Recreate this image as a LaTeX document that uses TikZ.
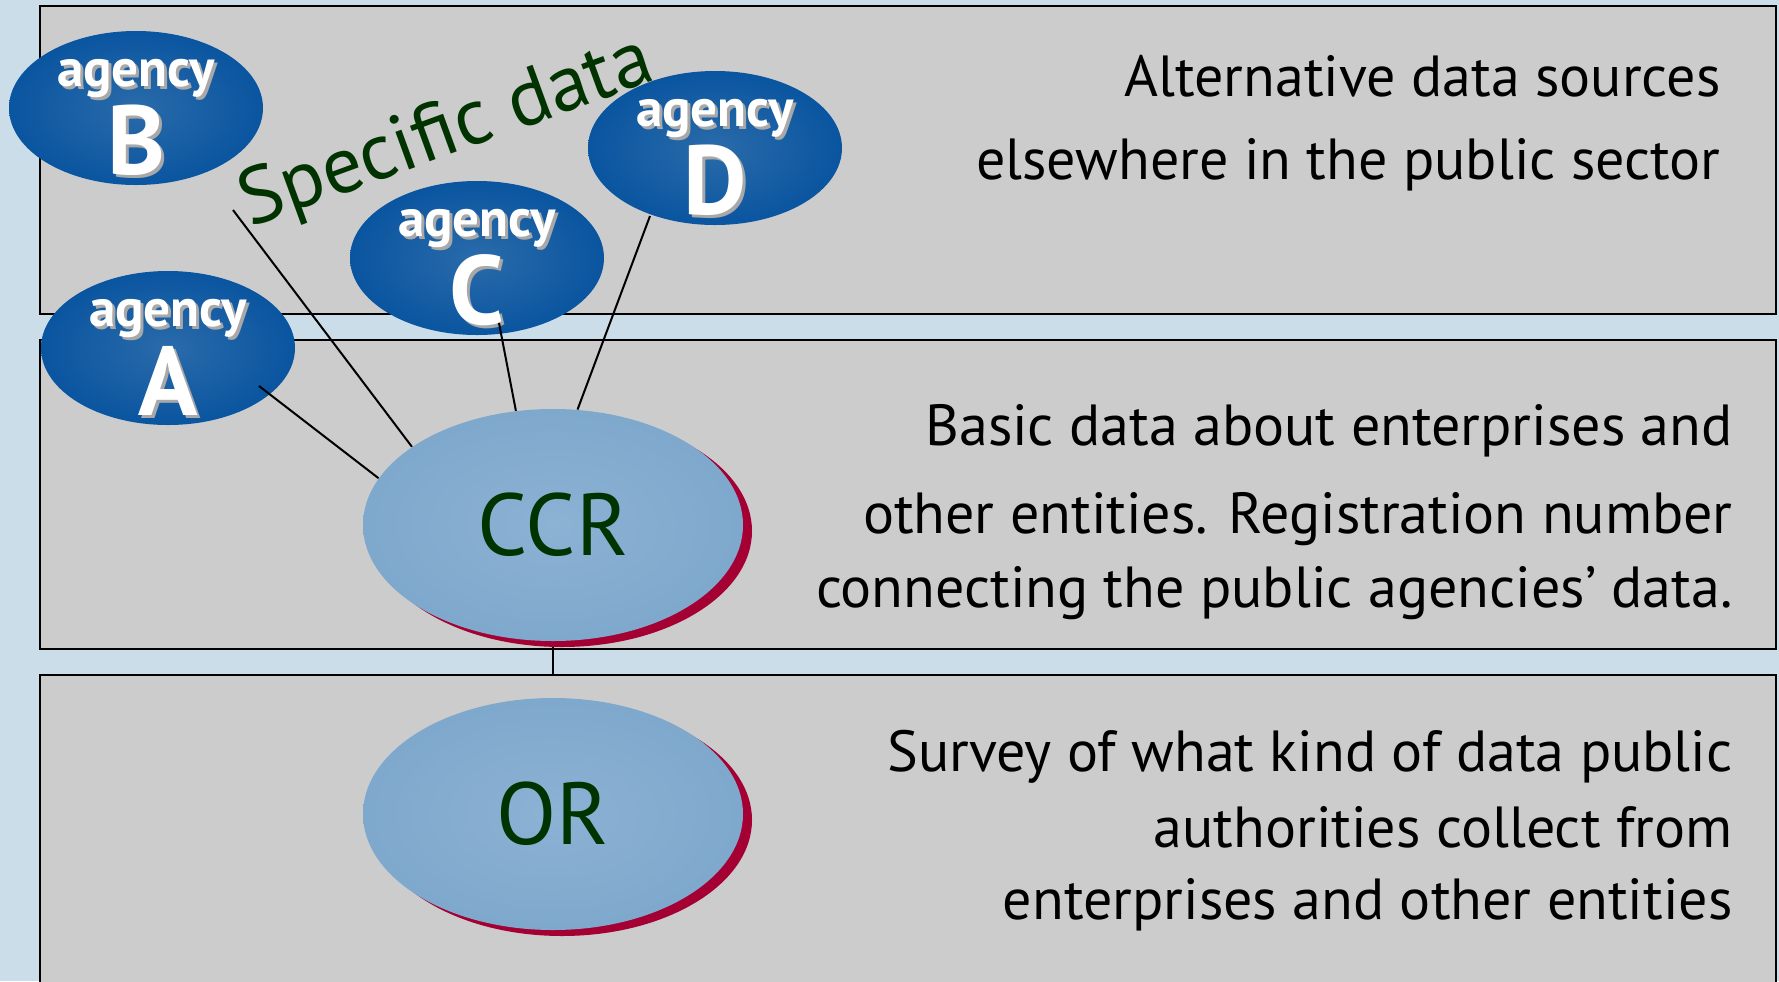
\documentclass[tikz,border=0pt]{standalone}
\usepackage{fontspec}
\setmainfont{PT Sans}
\usetikzlibrary{shapes.geometric}
\definecolor{bgblue}{HTML}{CCDDEA}
\definecolor{boxgray}{HTML}{CCCCCC}
\definecolor{agdark}{HTML}{0A55A0}
\definecolor{aglight}{HTML}{2A6BAA}
\definecolor{regout}{HTML}{7EA8CC}
\definecolor{regin}{HTML}{8CB2D4}
\definecolor{shred}{HTML}{A50034}
\definecolor{dgreen}{HTML}{003300}
\definecolor{txtshadow}{HTML}{A8A8A8}
\pgfdeclarelayer{back}
\pgfdeclarelayer{lines}
\pgfdeclarelayer{mid}
\pgfsetlayers{back,lines,mid,main}
\newcommand{\shtxt}[1]{\makebox[0pt][l]{\hspace{1.5pt}\raisebox{-1.5pt}{\textcolor{txtshadow}{#1}}}\textcolor{white}{#1}}
\begin{document}
\begin{tikzpicture}[x=0.5pt,y=-0.5pt,
 panel/.style={draw=black, line width=1.1pt, fill=boxgray},
 agency/.style={ellipse, inner sep=0pt, minimum width=127pt, minimum height=77pt, shading=radial, inner color=aglight, outer color=agdark},
 agword/.style={font=\bfseries\fontsize{26.5}{26.5}\selectfont, inner sep=0pt},
 agletter/.style={font=\bfseries\fontsize{49}{49}\selectfont, inner sep=0pt},
 register/.style={ellipse, inner sep=0pt, minimum width=190pt, minimum height=116pt, shading=radial, inner color=regin, outer color=regout, text=dgreen, font=\fontsize{44}{44}\selectfont},
 regshadow/.style={fill=shred},
 link/.style={draw=black, line width=1pt},
 desc/.style={anchor=base east, inner sep=0pt, font=\fontsize{29}{29}\selectfont, text=black}
]
\useasboundingbox (0,0) rectangle (1779,981);
\begin{pgfonlayer}{back}
\fill[bgblue] (0,0) rectangle (1779,981);
\draw[panel] (40,6) rectangle (1776,314);
\draw[panel] (40,340) rectangle (1776,649);
\node[agency] (B) at (136,108) {};
\node[agword] (Bt) at ([yshift=14pt]B.center) {\shtxt{agency}};
\node[agletter] (Bl) at ([yshift=-17pt]B.center) {\shtxt{B}};
\node[agency] (D) at (715,148) {};
\node[agword] (Dt) at ([yshift=14pt]D.center) {\shtxt{agency}};
\node[agletter] (Dl) at ([yshift=-17pt]D.center) {\shtxt{D}};
\node[agency] (C) at (477,258) {};
\node[agword] (Ct) at ([yshift=14pt]C.center) {\shtxt{agency}};
\node[agletter] (Cl) at ([yshift=-17pt]C.center) {\shtxt{C}};
\node[agency] (A) at (168,348) {};
\node[agword] (At) at ([yshift=14pt]A.center) {\shtxt{agency}};
\node[agletter] (Al) at ([yshift=-17pt]A.center) {\shtxt{A}};
\end{pgfonlayer}
% registers
\node[register] (CCR) at (553,525) {CCR};
\node[register] (OR) at (553,814) {OR};
\begin{pgfonlayer}{mid}
\draw[panel] (40,675) rectangle (1776,1000);
\fill[regshadow] ([xshift=4.5pt,yshift=-3pt]CCR.center) ellipse [x radius=95pt, y radius=58pt];
\fill[regshadow] ([xshift=4.5pt,yshift=-3pt]OR.center) ellipse [x radius=95pt, y radius=58pt];
\end{pgfonlayer}
\begin{pgfonlayer}{lines}
\coordinate (a1) at (259,386);
\coordinate (b1) at (233,210);
\coordinate (c1) at (499,323);
\coordinate (d1) at (650,216);
\draw[link] (a1) -- (CCR.165);
\draw[link] (b1) -- (CCR.151);
\draw[link] (c1) -- (CCR.108);
\draw[link] (d1) -- (CCR.78);
\draw[link] (CCR) -- (OR);
\end{pgfonlayer}
\node[text=dgreen, font=\fontsize{40}{40}\selectfont, rotate=20, inner sep=0pt] (spec) at (447,134) {Specific data};
\node[desc] (t1) at (1721,96) {Alternative data sources};
\node[desc] (t2) at (1721,179) {elsewhere in the public sector};
\node[desc] (m1) at (1733,445) {Basic data about enterprises and};
\node[desc] (m2) at (1733,533) {other entities. Registration number};
\node[desc] (m3) at (1733,607) {connecting the public agencies’ data.};
\node[desc] (b1t) at (1733,771) {Survey of what kind of data public};
\node[desc] (b2t) at (1733,847) {authorities collect from};
\node[desc] (b3t) at (1733,919) {enterprises and other entities};
\end{tikzpicture}
\end{document}
